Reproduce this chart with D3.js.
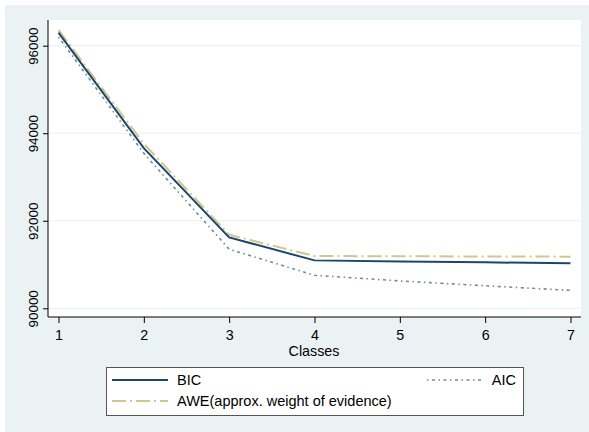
<!DOCTYPE html>
<html>
<head>
<meta charset="utf-8">
<script src="https://cdn.jsdelivr.net/npm/d3@7"></script>
<style>
  body { margin: 0; background: #fff; }
  text { font-family: "Liberation Sans", Arial, sans-serif; fill: #000; }
</style>
</head>
<body>
<svg width="589" height="432"></svg>
<script>
// data
let classes = [1, 2, 3, 4, 5, 6, 7];
let bic = [96300, 93660, 91620, 91095, 91068, 91050, 91027];
let aic = [96200, 93540, 91350, 90755, 90625, 90515, 90410];
let awe = [96360, 93760, 91680, 91195, 91188, 91185, 91180];
let yTicks = [90000, 92000, 94000, 96000];

let width = 589;
let height = 432;
let svg = d3.select("svg");

// outer background
svg.append("rect")
  .attr("x", 5).attr("y", 5)
  .attr("width", width - 5).attr("height", height - 5)
  .attr("fill", "#eaf2f3");

let plotLeft = 48, plotRight = 581, plotTop = 20, plotBottom = 317;

svg.append("rect")
  .attr("x", plotLeft).attr("y", plotTop)
  .attr("width", plotRight - plotLeft).attr("height", plotBottom - plotTop)
  .attr("fill", "#fff");

let x = d3.scaleLinear().domain([1, 7]).range([58.5, 570.5]);
let y = d3.scaleLinear().domain([90000, 96000]).range([308.3, 45.7]);

// gridlines
svg.append("g")
  .selectAll("line")
  .data(yTicks)
  .enter()
  .append("line")
  .attr("x1", plotLeft).attr("x2", plotRight)
  .attr("y1", d => y(d)).attr("y2", d => y(d))
  .attr("stroke", "#eaf2f3")
  .attr("stroke-width", 1.2);

// axes
let yAxis = svg.append("g")
  .attr("transform", "translate(" + plotLeft + ",0)")
  .call(d3.axisLeft(y).tickValues(yTicks).tickSize(5).tickSizeOuter(0).tickFormat(d3.format("d")));
yAxis.select(".domain").attr("d", "M0," + plotTop + "V" + plotBottom).attr("stroke", "#000");
yAxis.selectAll(".tick line").attr("stroke", "#000");
yAxis.selectAll(".tick text")
  .attr("transform", "rotate(-90)")
  .attr("x", 0).attr("y", -10)
  .attr("dy", 0)
  .attr("text-anchor", "middle")
  .attr("font-size", 13.4)
  .attr("font-family", "Liberation Sans, Arial, sans-serif");

let xAxis = svg.append("g")
  .attr("transform", "translate(0," + plotBottom + ")")
  .call(d3.axisBottom(x).tickValues(classes).tickSize(6).tickSizeOuter(0).tickFormat(d3.format("d")));
xAxis.select(".domain").attr("d", "M" + plotLeft + ",0H" + plotRight).attr("stroke", "#000");
xAxis.selectAll(".tick line").attr("stroke", "#000");
xAxis.selectAll(".tick text")
  .attr("y", 13)
  .attr("font-size", 14.3)
  .attr("font-family", "Liberation Sans, Arial, sans-serif");

svg.append("text")
  .attr("x", 314).attr("y", 356)
  .attr("text-anchor", "middle")
  .attr("font-size", 14.3)
  .text("Classes");

// series
let line = d3.line().x((d, i) => x(classes[i])).y(d => y(d));

let series = [
  { name: "AIC", values: aic, color: "#6f9080", width: 1.6, dash: "1.5,3.5,3,3.5" },
  { name: "AWE", values: awe, color: "#d2c58e", width: 2, dash: "14,4,2,4" },
  { name: "BIC", values: bic, color: "#1a476f", width: 2, dash: null }
];

svg.append("g")
  .selectAll("path")
  .data(series)
  .enter()
  .append("path")
  .attr("d", d => line(d.values))
  .attr("fill", "none")
  .attr("stroke", d => d.color)
  .attr("stroke-width", d => d.width)
  .attr("stroke-dasharray", d => d.dash);

// legend
let legend = svg.append("g");
legend.append("rect")
  .attr("x", 106.5).attr("y", 367.5)
  .attr("width", 417).attr("height", 48)
  .attr("fill", "#fff")
  .attr("stroke", "#555")
  .attr("stroke-width", 1);

let legendItems = [
  { s: series[2], x1: 112, x2: 168, tx: 177, ty: 380, anchor: "start" },
  { s: series[1], x1: 112, x2: 168, tx: 177, ty: 401, anchor: "start" },
  { s: series[0], x1: 427, x2: 481, tx: 516, ty: 380, anchor: "end" }
];

legend.selectAll("line")
  .data(legendItems)
  .enter()
  .append("line")
  .attr("x1", d => d.x1).attr("x2", d => d.x2)
  .attr("y1", d => d.ty).attr("y2", d => d.ty)
  .attr("stroke", d => d.s.color)
  .attr("stroke-width", d => d.s.width)
  .attr("stroke-dasharray", d => d.s.dash);

legend.selectAll("text")
  .data(legendItems)
  .enter()
  .append("text")
  .attr("x", d => d.tx).attr("y", d => d.ty)
  .attr("dy", "0.35em")
  .attr("text-anchor", d => d.anchor)
  .attr("font-size", 14.5)
  .text(d => d.s.name === "AWE" ? "AWE(approx. weight of evidence)" : d.s.name);
</script>
</body>
</html>
